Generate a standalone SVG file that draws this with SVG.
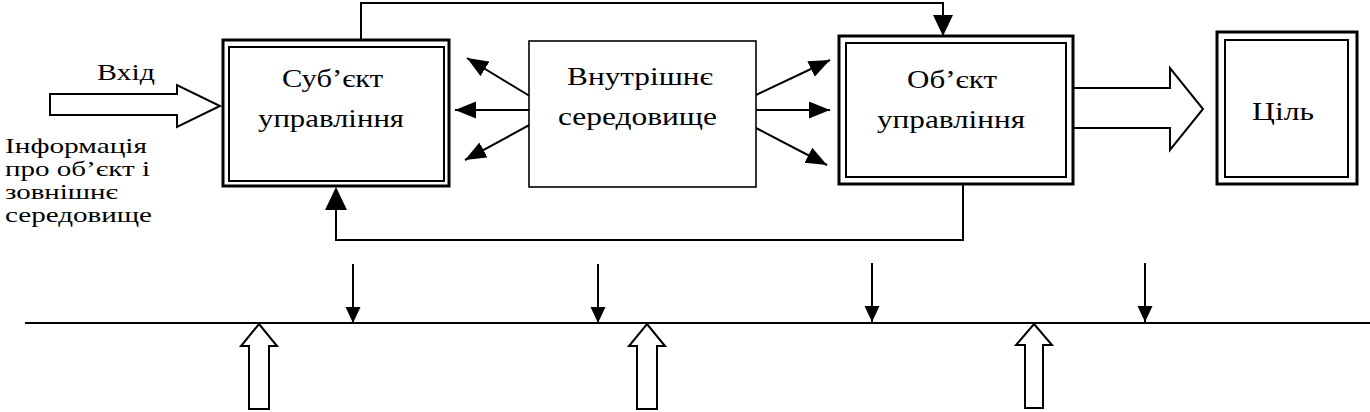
<svg xmlns="http://www.w3.org/2000/svg" width="1370" height="412" viewBox="0 0 1370 412" font-family="Liberation Serif, Times New Roman, serif">
<style>
text{font-size:26px;fill:#000}
.lbl{font-size:23px}
.info{font-size:22px}
.outer{fill:none;stroke:#000;stroke-width:3}
.inner{fill:none;stroke:#000;stroke-width:2}
.single{fill:#fff;stroke:#000;stroke-width:1.6}
.ln{fill:none;stroke:#000;stroke-width:2}
.hollow{fill:#fff;stroke:#000;stroke-width:2;stroke-linejoin:miter}
.tri{fill:#000;stroke:none}
</style>
<defs>
<marker id="ah" markerUnits="userSpaceOnUse" markerWidth="22" markerHeight="18" refX="21" refY="8.5" orient="auto" viewBox="0 0 22 18">
<path d="M0,0 L21,8.5 L0,17 z" fill="#000"/>
</marker>
<marker id="ahs" markerUnits="userSpaceOnUse" markerWidth="16" markerHeight="16" refX="16" refY="7.5" orient="auto" viewBox="0 0 16 16">
<path d="M0,0 L16,7.5 L0,15 z" fill="#000"/>
</marker>
</defs>
<rect width="1370" height="412" fill="#fff"/>

<g id="connectors">
<polygon class="hollow" points="50,94 177,94 177,85 220,106 177,127 177,115 50,115"/>
<polyline class="hollow" points="1074,88 1170,88 1170,68 1203,109 1170,150 1170,128 1074,128"/>
<path class="ln" d="M361,40 V3 H943 V18"/>
<polygon class="tri" points="933,15 953,15 943,36"/>
<path class="ln" d="M963,185 V240 H336 V208"/>
<polygon class="tri" points="325,210 347,210 336,187"/>
<line class="ln" x1="533" y1="98" x2="467" y2="58" marker-end="url(#ah)"/>
<line class="ln" x1="529" y1="110" x2="455" y2="110" marker-end="url(#ah)"/>
<line class="ln" x1="533" y1="123" x2="465" y2="160" marker-end="url(#ah)"/>
<line class="ln" x1="756" y1="95" x2="830" y2="60" marker-end="url(#ah)"/>
<line class="ln" x1="756" y1="110" x2="830" y2="110" marker-end="url(#ah)"/>
<line class="ln" x1="756" y1="128" x2="827" y2="165" marker-end="url(#ah)"/>
<line class="ln" x1="25" y1="323" x2="1370" y2="323"/>
<line class="ln" x1="353" y1="264" x2="353" y2="323" marker-end="url(#ahs)"/>
<line class="ln" x1="598" y1="264" x2="598" y2="323" marker-end="url(#ahs)"/>
<line class="ln" x1="872" y1="263" x2="872" y2="322" marker-end="url(#ahs)"/>
<line class="ln" x1="1145" y1="263" x2="1145" y2="322" marker-end="url(#ahs)"/>
<polygon class="hollow" points="259,324 277,346 269,346 269,409 249,409 249,346 241,346"/>
<polygon class="hollow" points="647,324 665,346 657,346 657,409 637,409 637,346 629,346"/>
<polygon class="hollow" points="1034,324 1052,345 1043,345 1043,408 1025,408 1025,345 1016,345"/>
</g>

<g id="input-label">
<text x="97" y="80" class="lbl" textLength="58" lengthAdjust="spacingAndGlyphs">Вхід</text>
</g>
<g id="info-label">
<text class="info" x="5" y="153" textLength="142" lengthAdjust="spacingAndGlyphs">Інформація</text>
<text class="info" x="5" y="176" textLength="145" lengthAdjust="spacingAndGlyphs">про об’єкт і</text>
<text class="info" x="5" y="199" textLength="113" lengthAdjust="spacingAndGlyphs">зовнішнє</text>
<text class="info" x="5" y="222" textLength="147" lengthAdjust="spacingAndGlyphs">середовище</text>
</g>

<g id="subject">
<rect class="outer" x="223" y="40" width="226" height="146"/>
<rect class="inner" x="229" y="47" width="215" height="134"/>
<text x="282" y="87" textLength="101" lengthAdjust="spacingAndGlyphs">Суб’єкт</text>
<text x="258" y="127" textLength="146" lengthAdjust="spacingAndGlyphs">управління</text>
</g>

<g id="internal">
<rect class="single" x="529" y="41" width="227" height="146"/>
<text x="567" y="85" textLength="146" lengthAdjust="spacingAndGlyphs">Внутрішнє</text>
<text x="558" y="125" textLength="159" lengthAdjust="spacingAndGlyphs">середовище</text>
</g>

<g id="object">
<rect class="outer" x="839" y="36" width="234" height="148"/>
<rect class="inner" x="846" y="43" width="220" height="134"/>
<text x="907" y="88" textLength="90" lengthAdjust="spacingAndGlyphs">Об’єкт</text>
<text x="877" y="128" textLength="148" lengthAdjust="spacingAndGlyphs">управління</text>
</g>

<g id="goal">
<rect class="outer" x="1217" y="32" width="140" height="152"/>
<rect class="inner" x="1225" y="40" width="123" height="137"/>
<text x="1252" y="120" textLength="62" lengthAdjust="spacingAndGlyphs">Ціль</text>
</g>
</svg>
